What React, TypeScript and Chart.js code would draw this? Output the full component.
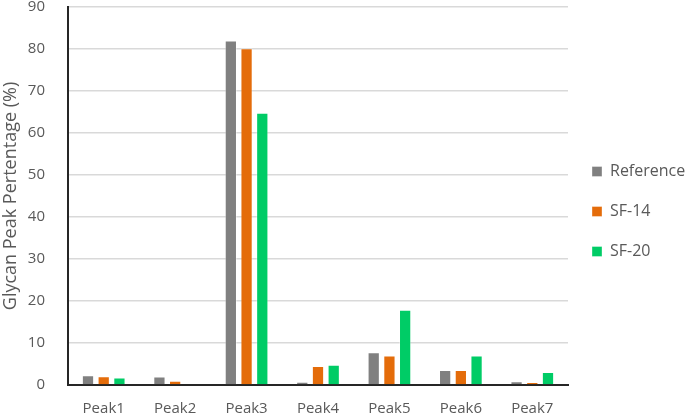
import React, { useEffect, useRef } from "react";
import { Chart, registerables } from "chart.js";

Chart.register(...registerables);

const categories = ["Peak1", "Peak2", "Peak3", "Peak4", "Peak5", "Peak6", "Peak7"];
const referenceValues = [2.3, 2.0, 82.0, 0.8, 7.8, 3.6, 0.9];
const sf14Values = [2.1, 1.0, 80.2, 4.5, 7.0, 3.6, 0.7];
const sf20Values = [1.8, 0, 64.8, 4.8, 17.9, 7.0, 3.1];
const seriesNames = ["Reference", "SF-14", "SF-20"];
const yAxisTitle = "Glycan Peak Pertentage (%)";

const FONT = "'Open Sans', 'Noto Sans', sans-serif";
const TEXT = "#595959";

export default function App() {
  const ref = useRef<HTMLCanvasElement | null>(null);

  useEffect(() => {
    if (!ref.current) return;
    const chart = new Chart(ref.current, {
      type: "bar",
      data: {
        labels: categories,
        datasets: [
          { label: seriesNames[0], data: referenceValues, backgroundColor: "#808080", borderColor: "rgba(255,255,255,0.35)", borderWidth: 1 },
          { label: seriesNames[1], data: sf14Values, backgroundColor: "#E46C0A", borderColor: "rgba(255,255,255,0.35)", borderWidth: 1 },
          { label: seriesNames[2], data: sf20Values, backgroundColor: "#00CC66", borderColor: "rgba(255,255,255,0.35)", borderWidth: 1 },
        ],
      },
      options: {
        responsive: false,
        animation: false,
        maintainAspectRatio: false,
        datasets: { bar: { categoryPercentage: 0.66, barPercentage: 0.78 } },
        layout: { padding: { left: 0, right: 0, top: 7, bottom: 0 } },
        plugins: {
          tooltip: { enabled: false },
          legend: {
            position: "right",
            align: "center",
            maxWidth: 117,
            labels: {
              boxWidth: 10,
              boxHeight: 10,
              padding: 24,
              color: TEXT,
              font: { family: FONT, size: 16 },
            },
          },
        },
        scales: {
          x: {
            grid: { display: false, drawTicks: true, tickLength: 8 },
            border: { display: true, color: "#262626", width: 2 },
            ticks: { color: TEXT, font: { family: FONT, size: 15 }, padding: 7 },
            afterFit: (s: any) => {
              s.height = 31;
            },
          },
          y: {
            min: 0,
            max: 90,
            ticks: { stepSize: 10, color: TEXT, font: { family: FONT, size: 15 }, padding: 23 },
            grid: { color: "#D9D9D9", lineWidth: 1.5, drawTicks: false },
            border: { display: true, color: "#262626", width: 2 },
            title: {
              display: true,
              text: yAxisTitle,
              color: TEXT,
              font: { family: FONT, size: 18, weight: "normal" },
              padding: { top: 0, bottom: 0 },
            },
            afterFit: (s: any) => {
              s.width = 68;
              s.paddingTop = 0;
              s.paddingBottom = 0;
            },
          },
        },
      },
    });
    return () => chart.destroy();
  }, []);

  return (
    <div style={{ position: "fixed", left: 0, top: 0, width: 685, height: 416, background: "#fff" }}>
      <canvas ref={ref} width={685} height={416} style={{ display: "block" }} />
    </div>
  );
}
